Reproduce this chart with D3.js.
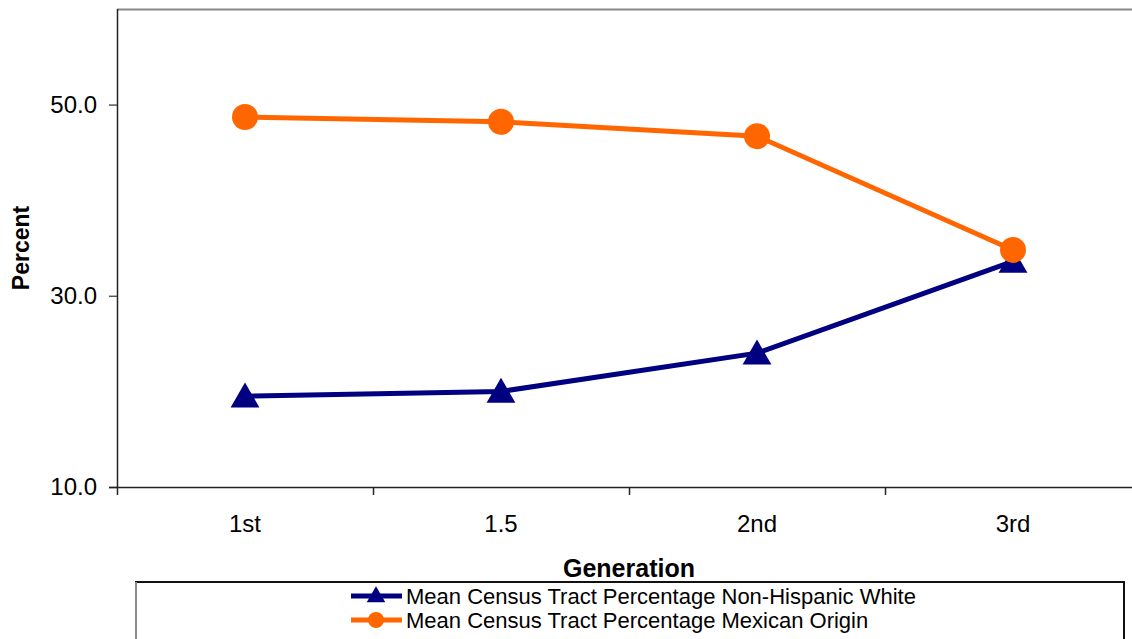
<!DOCTYPE html>
<html>
<head>
<meta charset="utf-8">
<script src="https://cdn.jsdelivr.net/npm/d3@7"></script>
<style>
  html, body { margin: 0; padding: 0; background: #fff; overflow: hidden; }
  svg { display: block; font-family: "Liberation Sans", Arial, sans-serif; }
</style>
</head>
<body>
<svg id="chart" width="1132" height="639"></svg>
<script>
// Generations on the x axis
const generations = ["1st", "1.5", "2nd", "3rd"];
// Mean census tract percentages by generation
const nonHispanicWhite = [19.5, 20.0, 24.0, 33.6];
const mexicanOrigin = [48.7, 48.2, 46.7, 34.8];
// Y axis ticks
const yTicks = [10, 30, 50];
const seriesNames = [
  "Mean Census Tract Percentage Non-Hispanic White",
  "Mean Census Tract Percentage Mexican Origin"
];

const svg = d3.select("#chart");
const plot = { left: 117, right: 1141, top: 9, bottom: 487 };

const x = d3.scaleBand().domain(generations).range([plot.left, plot.right]);
const y = d3.scaleLinear().domain([10, 60]).range([plot.bottom, plot.top]);

// Plot frame: top edge in grey
svg.append("line")
  .attr("x1", plot.left).attr("x2", plot.right)
  .attr("y1", plot.top + 0.5).attr("y2", plot.top + 0.5)
  .attr("stroke", "#888").attr("stroke-width", 2);

// Y axis
const yAxis = svg.append("g")
  .attr("transform", `translate(${plot.left},0)`)
  .call(d3.axisLeft(y).tickValues(yTicks).tickFormat(d3.format(".1f")).tickSize(8).tickPadding(12));
yAxis.select(".domain").attr("stroke", "#222").attr("stroke-width", 1.5)
  .attr("d", `M0.5,${plot.top}V${plot.bottom}`);
yAxis.selectAll(".tick line").attr("stroke", "#555").attr("stroke-width", 1.5);
yAxis.selectAll(".tick text")
  .attr("fill", "#000").attr("font-size", 24)
  .attr("font-family", "'Liberation Sans', Arial, sans-serif");

// X axis: ticks sit on category boundaries
const xAxisG = svg.append("g").attr("transform", `translate(0,${plot.bottom})`);
xAxisG.append("line")
  .attr("x1", plot.left - 8).attr("x2", plot.right)
  .attr("y1", 0.5).attr("y2", 0.5)
  .attr("stroke", "#222").attr("stroke-width", 1.5);
const boundaries = generations.map(g => x(g));
xAxisG.selectAll("line.tick")
  .data(boundaries)
  .join("line")
  .attr("class", "tick")
  .attr("x1", d => Math.round(d) + 0.5).attr("x2", d => Math.round(d) + 0.5)
  .attr("y1", 0).attr("y2", 8)
  .attr("stroke", "#222").attr("stroke-width", 1.5);
xAxisG.selectAll("text.label")
  .data(generations)
  .join("text")
  .attr("class", "label")
  .attr("x", d => x(d) + x.bandwidth() / 2)
  .attr("y", 45)
  .attr("text-anchor", "middle")
  .attr("font-size", 24)
  .attr("fill", "#000")
  .text(d => d);

// Axis titles
svg.append("text")
  .attr("x", (plot.left + plot.right) / 2)
  .attr("y", 577)
  .attr("text-anchor", "middle")
  .attr("font-size", 25).attr("font-weight", "bold")
  .text("Generation");
svg.append("text")
  .attr("transform", `translate(29,${(plot.top + plot.bottom) / 2}) rotate(-90)`)
  .attr("text-anchor", "middle")
  .attr("font-size", 23).attr("font-weight", "bold")
  .text("Percent");

const cx = d => x(d) + x.bandwidth() / 2;
const navy = "#000080";
const orange = "#FF6600";

const line = d3.line().x(d => cx(d[0])).y(d => y(d[1]));
const triangle = d3.symbol().type(d3.symbolTriangle).size(360);

// Non-Hispanic White series
const whiteData = generations.map((g, i) => [g, nonHispanicWhite[i]]);
svg.append("path").datum(whiteData)
  .attr("d", line).attr("fill", "none")
  .attr("stroke", navy).attr("stroke-width", 5);
svg.selectAll("path.tri").data(whiteData).join("path")
  .attr("class", "tri")
  .attr("transform", d => `translate(${cx(d[0])},${y(d[1]) + 3})`)
  .attr("d", triangle).attr("fill", navy);

// Mexican Origin series
const mexData = generations.map((g, i) => [g, mexicanOrigin[i]]);
svg.append("path").datum(mexData)
  .attr("d", line).attr("fill", "none")
  .attr("stroke", orange).attr("stroke-width", 5);
svg.selectAll("circle.dot").data(mexData).join("circle")
  .attr("class", "dot")
  .attr("cx", d => cx(d[0])).attr("cy", d => y(d[1]))
  .attr("r", 13).attr("fill", orange);

// Legend box
const legend = svg.append("g");
legend.append("rect")
  .attr("x", 136).attr("y", 582)
  .attr("width", 988).attr("height", 70)
  .attr("fill", "#fff").attr("stroke", "#111").attr("stroke-width", 2);
legend.append("line")
  .attr("x1", 136).attr("x2", 136).attr("y1", 582).attr("y2", 639)
  .attr("stroke", "#888").attr("stroke-width", 2);

const colors = [navy, orange];
const rows = [596, 620];
seriesNames.forEach((name, i) => {
  const g = legend.append("g");
  g.append("line")
    .attr("x1", 351).attr("x2", 402)
    .attr("y1", rows[i]).attr("y2", rows[i])
    .attr("stroke", colors[i]).attr("stroke-width", 5);
  if (i === 0) {
    g.append("path")
      .attr("transform", `translate(376,${rows[i] + 1})`)
      .attr("d", d3.symbol().type(d3.symbolTriangle).size(150))
      .attr("fill", colors[i]);
  } else {
    g.append("circle")
      .attr("cx", 376).attr("cy", rows[i]).attr("r", 8)
      .attr("fill", colors[i]);
  }
  g.append("text")
    .attr("x", 406).attr("y", rows[i] + 7.5)
    .attr("font-size", 22).attr("fill", "#000")
    .text(name);
});
</script>
</body>
</html>
